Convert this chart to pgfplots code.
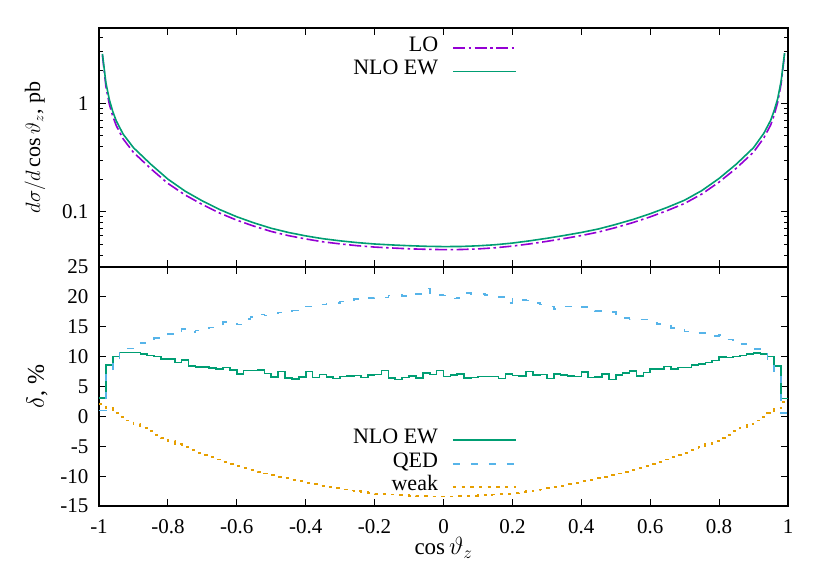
\documentclass[border=0pt]{standalone}
\usepackage{fontspec}
\setmainfont{Liberation Serif}
\usepackage{pgfplots}
\usepackage{pgfplotstable}
\pgfplotsset{compat=1.18}

\definecolor{cLO}{HTML}{9400D3}
\definecolor{cNLO}{HTML}{009E73}
\definecolor{cQED}{HTML}{56B4E9}
\definecolor{cWeak}{HTML}{E69F00}

% top panel: d sigma / d cos theta
\pgfplotstableread{
x nlo lo
-0.99 2.85 2.77
-0.98 1.55 1.43
-0.97 1.08 0.98
-0.96 0.84 0.76
-0.95 0.69 0.624
-0.93 0.52 0.47
-0.90 0.39 0.353
-0.85 0.275 0.25
-0.80 0.200 0.1825
-0.75 0.155 0.1429
-0.70 0.126 0.1167
-0.65 0.105 0.0974
-0.60 0.090 0.0837
-0.55 0.079 0.0737
-0.50 0.0705 0.0659
-0.45 0.0645 0.0603
-0.40 0.0600 0.0562
-0.35 0.0565 0.0529
-0.30 0.0540 0.0506
-0.25 0.0520 0.0487
-0.20 0.0505 0.0473
-0.15 0.0495 0.0464
-0.10 0.0487 0.0456
-0.05 0.0481 0.0451
0.00 0.0478 0.0448
0.05 0.0479 0.0449
0.10 0.0486 0.0455
0.15 0.0497 0.0466
0.20 0.0515 0.0483
0.25 0.0540 0.0506
0.30 0.0570 0.0534
0.35 0.0605 0.0567
0.40 0.0645 0.0604
0.45 0.0695 0.0651
0.50 0.0765 0.0716
0.55 0.0850 0.0796
0.60 0.0960 0.0898
0.65 0.110 0.1028
0.70 0.128 0.1194
0.75 0.157 0.1459
0.80 0.203 0.188
0.85 0.275 0.2523
0.90 0.39 0.3545
0.93 0.53 0.4805
0.95 0.70 0.634
0.96 0.86 0.782
0.97 1.10 1.019
0.98 1.60 1.51
0.99 2.90 2.82
}\xsec

% bottom panel: relative corrections, bins of width 0.02 (left edges)
\pgfplotstableread{
x nlo qed weak
-1.00 3.10 1.0 2.10
-0.98 8.55 7.2 1.35
-0.96 10.05 9.55 0.50
-0.94 10.67 10.77 -0.10
-0.92 10.67 11.37 -0.70
-0.90 10.67 11.97 -1.30
-0.88 10.40 12.3 -1.90
-0.86 10.20 12.7 -2.50
-0.84 10.00 13.07 -3.07
-0.82 9.60 13.23 -3.63
-0.80 9.60 13.77 -4.17
-0.78 9.05 13.73 -4.68
-0.76 9.45 14.62 -5.17
-0.74 8.45 14.08 -5.63
-0.72 8.30 14.37 -6.07
-0.70 8.30 14.77 -6.47
-0.68 8.05 14.9 -6.85
-0.66 7.90 15.12 -7.22
-0.64 8.20 15.78 -7.58
-0.62 7.75 15.68 -7.93
-0.60 7.10 15.37 -8.27
-0.58 7.70 16.3 -8.60
-0.56 7.70 16.63 -8.93
-0.54 7.80 17.05 -9.25
-0.52 7.15 16.9 -9.55
-0.50 6.60 17.2 -9.83
-0.48 7.49 17.4 -10.10
-0.46 6.42 17.6 -10.36
-0.44 6.30 17.7 -10.62
-0.42 6.60 18.2 -10.88
-0.40 7.49 18.4 -11.12
-0.38 6.50 18.5 -11.37
-0.36 7.00 18.7 -11.60
-0.34 6.60 18.9 -11.83
-0.32 6.37 19.0 -12.05
-0.30 6.70 19.2 -12.23
-0.28 6.80 19.3 -12.40
-0.26 6.87 19.6 -12.55
-0.24 6.54 19.5 -12.70
-0.22 6.93 19.8 -12.83
-0.20 7.00 19.9 -12.93
-0.18 7.70 19.9 -13.00
-0.16 6.42 20.2 -13.08
-0.14 6.20 20.3 -13.15
-0.12 6.54 20.1 -13.22
-0.10 6.76 20.3 -13.27
-0.08 6.42 20.5 -13.30
-0.06 7.26 21.4 -13.35
-0.04 7.04 20.6 -13.40
-0.02 7.65 20.3 -13.40
0.00 6.70 20.2 -13.40
0.02 6.93 19.7 -13.40
0.04 7.10 19.8 -13.35
0.06 6.42 20.6 -13.30
0.08 6.54 20.4 -13.27
0.10 6.70 20.5 -13.22
0.12 6.70 20.3 -13.15
0.14 6.65 20.3 -13.08
0.16 6.37 20.0 -13.00
0.18 7.10 19.0 -12.93
0.20 6.87 19.7 -12.83
0.22 6.80 19.5 -12.70
0.24 7.49 19.4 -12.55
0.26 6.93 19.0 -12.40
0.28 7.00 18.7 -12.23
0.30 6.37 18.4 -12.05
0.32 7.10 18.0 -11.83
0.34 6.93 18.4 -11.60
0.36 6.80 18.4 -11.37
0.38 6.70 18.2 -11.12
0.40 7.43 18.3 -10.88
0.42 6.54 17.8 -10.62
0.44 6.60 17.6 -10.36
0.46 7.10 17.5 -10.10
0.48 6.20 17.5 -9.83
0.50 6.93 16.8 -9.55
0.52 7.26 16.5 -9.25
0.54 7.60 16.2 -8.93
0.56 6.76 16.2 -8.60
0.58 7.32 16.2 -8.27
0.60 7.88 15.7 -7.93
0.62 7.93 15.51 -7.58
0.64 8.32 15.54 -7.22
0.66 7.93 14.78 -6.85
0.68 8.20 14.67 -6.47
0.70 8.16 14.23 -6.07
0.72 8.55 14.18 -5.63
0.74 8.77 13.94 -5.17
0.76 9.05 13.73 -4.68
0.78 9.33 13.5 -4.17
0.80 9.94 13.57 -3.63
0.82 9.83 12.9 -3.07
0.84 10.05 12.55 -2.50
0.86 10.22 12.12 -1.90
0.88 10.45 11.75 -1.30
0.90 10.60 11.3 -0.70
0.92 10.40 10.5 -0.10
0.94 10.00 9.5 0.50
0.96 8.44 7.09 1.35
0.98 3.00 0.6 2.40
1.00 3.00 0.6 2.40
}\corr

\pgfplotsset{
  panel/.style={
    scale only axis, width=689pt, height=239pt,
    xmin=-1, xmax=1,
    xtick={-1,-0.8,-0.6,-0.4,-0.2,0,0.2,0.4,0.6,0.8,1},
    axis line style={line width=1.9pt},
    major tick length=7pt, minor tick length=4pt,
    every tick/.style={black, line width=0.9pt},
    tick label style={font=\fontsize{21}{24}\selectfont},
    legend plot pos=right,
    legend image code/.code={\draw[##1] (0pt,0pt) -- (63pt,0pt);},
    legend style={draw=none, fill=none, inner sep=0pt,
      font=\fontsize{22}{26}\selectfont, cells={anchor=east},
      nodes={inner sep=0pt, text height=15pt, text depth=8.5pt},
      /tikz/every odd column/.append style={column sep=14pt}},
  },
}

\begin{document}
\begin{tikzpicture}
\useasboundingbox (-99pt,-75pt) rectangle (731pt,506pt);

\begin{axis}[panel, at={(0pt,0pt)}, anchor=south west,
  ymin=-15, ymax=25,
  ytick={-15,-10,-5,0,5,10,15,20,25},
  yticklabels={-15,-10,-5,0,5,10,15,20,25},
  xticklabels={-1,-0.8,-0.6,-0.4,-0.2,0,0.2,0.4,0.6,0.8,1},
  xticklabel style={yshift=-10pt},
  yticklabel style={xshift=-7pt},
  xlabel={cos\,$\vartheta_z$},
  xlabel style={font=\fontsize{23}{26}\selectfont, at={(axis description cs:0.5,-0.176)}, anchor=center},
  ylabel={$\delta$, \%},
  ylabel style={font=\fontsize{24}{28}\selectfont, at={(axis description cs:-0.090,0.5)}, anchor=center},
  legend style={at={(axis description cs:0.6067,0.325)}, anchor=north east},
]
\addplot[const plot mark left, color=cNLO, line width=1.6pt] table[x=x, y=nlo] {\corr};
\addlegendentry{NLO EW}
\addplot[const plot mark left, color=cQED, line width=1.6pt, dash pattern=on 7pt off 11pt] table[x=x, y=qed] {\corr};
\addlegendentry{QED}
\addplot[const plot mark left, color=cWeak, line width=1.8pt, dash pattern=on 3.3pt off 5.4pt] table[x=x, y=weak] {\corr};
\addlegendentry{weak}
\end{axis}

\begin{axis}[panel, at={(0pt,239pt)}, anchor=south west,
  ymode=log, ymin=0.031, ymax=4.94,
  ytick={0.1,1}, yticklabels={0.1,1},
  minor ytick={0.04,0.05,0.06,0.07,0.08,0.09,0.2,0.3,0.4,0.5,0.6,0.7,0.8,0.9,2,3,4},
  xticklabels={},
  yticklabel style={xshift=-7pt},
  ylabel={$d\sigma/d\cos\vartheta_z$, pb},
  ylabel style={font=\fontsize{22}{26}\selectfont, at={(axis description cs:-0.0929,0.5)}, anchor=center},
  legend style={at={(axis description cs:0.6067,0.9665)}, anchor=north east},
]
\addplot[color=cLO, line width=1.6pt, dash pattern=on 12pt off 3.5pt on 2.5pt off 3.5pt] table[x=x, y=lo] {\xsec};
\addlegendentry{LO}
\addplot[color=cNLO, line width=1.6pt] table[x=x, y=nlo] {\xsec};
\addlegendentry{NLO EW}
\end{axis}
\end{tikzpicture}
\end{document}
